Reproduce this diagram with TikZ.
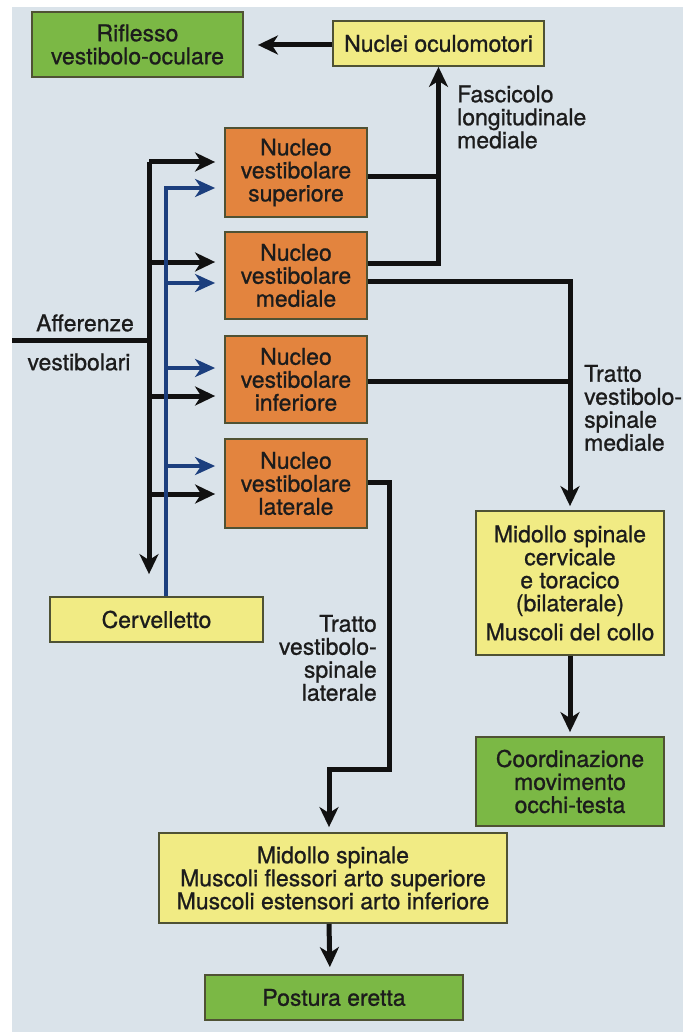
\documentclass[tikz,border=0pt]{standalone}
\usepackage{fontspec}
\setmainfont{TeX Gyre Heros}[FakeBold=0.9]
\usetikzlibrary{arrows.meta,calc}
\definecolor{bgc}{HTML}{DAE3EA}
\definecolor{grn}{HTML}{7BB845}
\definecolor{ylw}{HTML}{F1EB84}
\definecolor{org}{HTML}{E3843E}
\definecolor{bordc}{HTML}{4F5234}
\definecolor{txtc}{HTML}{1C1C1C}
\definecolor{bluc}{HTML}{1C3F7E}
\definecolor{linc}{HTML}{111111}
\begin{document}
\begin{tikzpicture}[x=1pt,y=-1pt,
  txt/.style={text=txtc, font=\fontsize{23pt}{23pt}\selectfont},
  box/.style={txt, draw=bordc, line width=1.8pt, inner sep=0pt, align=center},
  gbox/.style={box, fill=grn},
  ybox/.style={box, fill=ylw},
  obox/.style={box, fill=org, minimum width=142pt},
  lbl/.style={txt, inner sep=0pt},
  conn/.style={line width=5pt, draw=linc},
  arr/.style={conn, -{Stealth[length=20pt,width=19pt,inset=6pt]}},
  barr/.style={line width=4.5pt, draw=bluc, -{Stealth[length=20pt,width=18pt,inset=6pt]}}]
\useasboundingbox (0,0) rectangle (683,1032);
\fill[white] (0,0) rectangle (683,1032);
\fill[bgc] (12,7) rectangle (683,1032);

% boxes
\node[gbox, minimum width=211pt, minimum height=65pt] (rif) at (137.5,44.5) {Riflesso\\vestibolo-oculare};
\node[ybox, minimum width=211pt, minimum height=45pt] (nuc) at (438.5,43.5) {Nuclei oculomotori};
\node[obox, minimum height=89pt] (sup) at (296,172.5) {Nucleo\\vestibolare\\superiore};
\node[obox, minimum height=87pt] (med) at (296,275.5) {Nucleo\\vestibolare\\mediale};
\node[obox, minimum height=87pt] (inf) at (296,379.5) {Nucleo\\vestibolare\\inferiore};
\node[obox, minimum height=89pt] (lat) at (296,483.5) {Nucleo\\vestibolare\\laterale};
\node[ybox, minimum width=188pt, minimum height=144pt] (cerv) at (570,583) {Midollo spinale\\cervicale\\e toracico\\(bilaterale)\\[6pt]Muscoli del collo};
\node[gbox, minimum width=188pt, minimum height=89pt] (coord) at (570,781.5) {Coordinazione\\movimento\\occhi-testa};
\node[ybox, minimum width=213pt, minimum height=45pt] (cer) at (156.5,619.5) {Cervelletto};
\node[ybox, minimum width=348pt, minimum height=90pt] (mid) at (333,878) {Midollo spinale\\Muscoli flessori arto superiore\\Muscoli estensori arto inferiore};
\node[gbox, minimum width=258pt, minimum height=45pt] (post) at (334,997.5) {Postura eretta};

% labels
\node[lbl, align=left, anchor=west] (lfas) at (457,117) {Fascicolo\\longitudinale\\mediale};
\node[lbl, align=left, anchor=west] (ltm) at (584,408) {Tratto\\vestibolo-\\spinale\\mediale};
\node[lbl, align=right, anchor=east] (ltl) at (377,658) {Tratto\\vestibolo-\\spinale\\laterale};
\node[lbl] (laff) at (85,323) {Afferenze};
\node[lbl] (lves) at (79,362) {vestibolari};

% coordinates
\coordinate (fj) at (nuc.south |- 0,177);
\coordinate (tj) at (cerv.north |- 0,381);
\coordinate (ain) at (12,340);
\coordinate (aj) at (149,340);
\coordinate (bt) at (149,162);
\coordinate (lk1) at (389,769);

% top connectors
\draw[arr, shorten >=14pt] (nuc.west |- 0,45) -- (rif.east |- 0,45);
\draw[conn] (sup.east |- 0,177) -- (fj);
\draw[arr] (med.east |- 0,263) -| (nuc.south);
\draw[arr, shorten >=4pt] (med.east |- 0,281) -| (cerv.north);
\draw[conn] (inf.east |- 0,381) -- (tj);
\draw[arr, shorten >=5pt] (lat.east |- 0,482) -| (lk1) -| ([xshift=-4pt]mid.north);
\draw[arr, shorten >=4pt] (cerv.south) -- (coord.north);
\draw[arr, shorten >=7pt] ([xshift=-4pt]mid.south) -- ([xshift=-4pt]post.north);

% afferent inputs
\draw[conn] (ain) -- (aj);
\draw[arr, shorten >=22pt] (bt) -- (bt |- cer.north);
\draw[arr, shorten >=9pt] (bt) -- (sup.west |- bt);
\draw[arr, shorten >=9pt] (149,262) -- (med.west |- 0,262);
\draw[arr, shorten >=9pt] (149,396) -- (inf.west |- 0,396);
\draw[arr, shorten >=9pt] (149,494) -- (lat.west |- 0,494);

% cerebellar inputs (blue)
\draw[barr, shorten >=9pt] (cer.north -| 166,0) |- (sup.west |- 0,188);
\draw[barr, shorten >=9pt] (166,283) -- (med.west |- 0,283);
\draw[barr, shorten >=9pt] (166,368) -- (inf.west |- 0,368);
\draw[barr, shorten >=9pt] (166,466) -- (lat.west |- 0,466);
\end{tikzpicture}
\end{document}
